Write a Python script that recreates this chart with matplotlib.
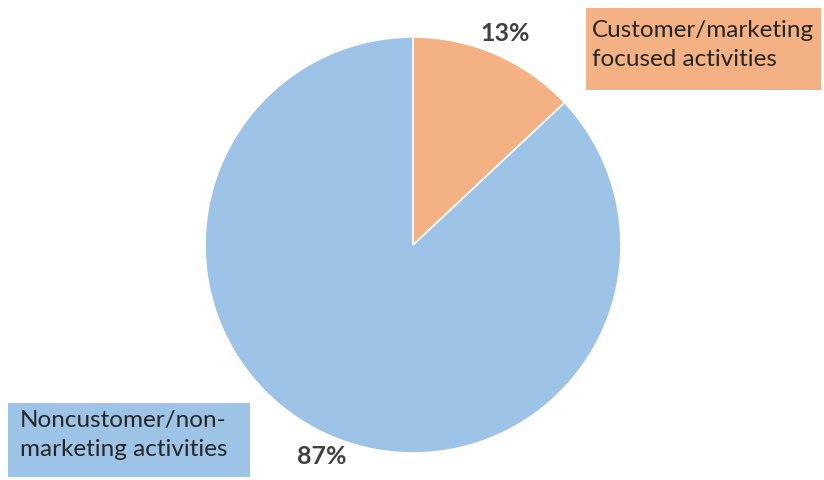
import matplotlib
matplotlib.use("Agg")
from matplotlib import pyplot as plt
from matplotlib.patches import Rectangle

# data
categories = ["Customer/marketing\nfocused activities", "Noncustomer/non-\nmarketing activities"]
shares = [13, 87]
colors = ["#F4B183", "#9DC3E6"]

plt.rcParams['font.family'] = ['Lato', 'DejaVu Sans']

fig = plt.figure(figsize=(8.24, 4.8), dpi=100)
# pie centre ~ (413, 245) px, radius ~ 208 px
ax = fig.add_axes([(413 - 208) / 824, (480 - 245 - 208) / 480, 416 / 824, 416 / 480])

wedges, texts, pcts = ax.pie(
    shares, colors=colors, startangle=90, counterclock=False,
    autopct='%d%%', pctdistance=1.11, radius=1.0,
    wedgeprops=dict(edgecolor='white', linewidth=1.2),
    textprops=dict(fontsize=18, fontweight='bold', color='#404040'),
)
ax.set_xlim(-1, 1)
ax.set_ylim(-1, 1)
ax.set_aspect('equal')
ax.axis('off')

# category label boxes (figure pixel coords -> fractions)
boxes = [(586, 8, 821, 90, 592, 20), (8, 403, 250, 477, 20, 410)]
for (x0, y0, x1, y1, tx, ty), label, col in zip(boxes, categories, colors):
    fig.patches.append(Rectangle((x0 / 824, 1 - y1 / 480), (x1 - x0) / 824, (y1 - y0) / 480,
                                 transform=fig.transFigure, facecolor=col, edgecolor='none'))
    fig.text(tx / 824, 1 - ty / 480, label, ha='left', va='top', fontsize=17.5,
             color='#262626', linespacing=1.45)

fig.savefig("out.png", dpi=100)
